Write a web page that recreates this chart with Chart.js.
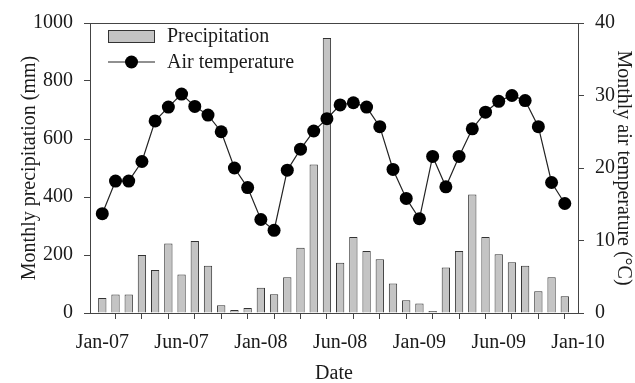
<!DOCTYPE html>
<html><head><meta charset="utf-8">
<script src="https://cdn.jsdelivr.net/npm/chart.js@4"></script>
<style>html,body{margin:0;padding:0;background:#fff}</style>
</head><body>
<canvas id="c" width="635" height="383"></canvas>
<script>
const months = ['Jan-07','Feb-07','Mar-07','Apr-07','May-07','Jun-07','Jul-07','Aug-07','Sep-07','Oct-07','Nov-07','Dec-07',
  'Jan-08','Feb-08','Mar-08','Apr-08','May-08','Jun-08','Jul-08','Aug-08','Sep-08','Oct-08','Nov-08','Dec-08',
  'Jan-09','Feb-09','Mar-09','Apr-09','May-09','Jun-09','Jul-09','Aug-09','Sep-09','Oct-09','Nov-09','Dec-09'];
const precipitation = [52,64,64,200,148,240,133,248,163,27,10,17,
  87,65,123,225,512,948,173,262,214,185,102,44,
  33,7,157,214,409,262,203,175,163,75,123,58];
const temperature = [13.7,18.2,18.2,20.9,26.5,28.4,30.2,28.5,27.3,25.0,20.0,17.3,
  12.9,11.4,19.7,22.6,25.1,26.8,28.7,29.0,28.4,25.7,19.8,15.8,
  13.0,21.6,17.4,21.6,25.4,27.7,29.2,30.0,29.3,25.7,18.0,15.1];
const tickLabels = ['Jan-07','Jun-07','Jan-08','Jun-08','Jan-09','Jun-09','Jan-10'];
const tickLabelIndex = [0,6,12,18,24,30,36];

const FONT = {family:'"Liberation Serif","Times New Roman",serif', size:20};
const TXT = '#1a1a1a';
const AX = '#444';

const legendPlugin = {
  id:'customLegend',
  afterDraw(chart){
    const ctx = chart.ctx;
    const ds = chart.data.datasets;
    ctx.save();
    const a = chart.chartArea;
    ctx.strokeStyle = AX; ctx.lineWidth = 1;
    ctx.beginPath(); ctx.moveTo(a.left, a.top+0.5); ctx.lineTo(a.right, a.top+0.5); ctx.stroke();
    const bar = ds.find(d=>d.type!=='line');
    const line = ds.find(d=>d.type==='line');
    ctx.fillStyle = bar.backgroundColor; ctx.strokeStyle = bar.borderColor; ctx.lineWidth = 1;
    ctx.fillRect(108.5,30.5,46,12); ctx.strokeRect(108.5,30.5,46,12);
    ctx.strokeStyle = line.borderColor; ctx.lineWidth = 1.2;
    ctx.beginPath(); ctx.moveTo(108,62); ctx.lineTo(155,62); ctx.stroke();
    ctx.fillStyle = '#000';
    ctx.beginPath(); ctx.arc(131.5,62,6.5,0,Math.PI*2); ctx.fill();
    ctx.fillStyle = TXT;
    ctx.font = FONT.size+'px '+FONT.family;
    ctx.textBaseline = 'middle'; ctx.textAlign='left';
    ctx.fillText(bar.label,167,37);
    ctx.fillText(line.label,167,63);
    ctx.restore();
  }
};

new Chart(document.getElementById('c'), {
  type:'bar',
  data:{
    datasets:[
      {type:'line', label:'Air temperature', data:temperature.map((v,i)=>({x:i,y:v})), yAxisID:'y1',
       borderColor:'#222', borderWidth:1.2, pointRadius:6.5, pointBackgroundColor:'#000', pointBorderColor:'#000',
       pointBorderWidth:0, tension:0, order:0},
      {type:'bar', label:'Precipitation', data:precipitation.map((v,i)=>({x:i,y:v})), yAxisID:'y',
       backgroundColor:'#c4c4c4', borderColor:'#333', borderWidth:1, barPercentage:0.63, categoryPercentage:1, order:1}
    ]
  },
  options:{
    responsive:false, animation:false, devicePixelRatio:1,
    layout:{padding:{top:19,left:0,right:0,bottom:0}},
    plugins:{legend:{display:false}, tooltip:{enabled:false}},
    scales:{
      x:{type:'linear', min:-0.93, max:36, offset:false,
        grid:{drawOnChartArea:false, drawTicks:true, tickLength:6, color:AX},
        border:{display:true, color:AX, width:1},
        ticks:{stepSize:2, includeBounds:false, autoSkip:false, maxRotation:0, minRotation:0, padding:12, color:TXT, font:FONT,
          callback:(v)=>{const k=tickLabelIndex.indexOf(v); return k>=0?tickLabels[k]:'';}},
        title:{display:true, text:'Date', font:FONT, color:TXT, padding:{top:0,bottom:-3}},
        afterFit:(s)=>{s.height=70;}
      },
      y:{position:'left', min:0, max:1000,
        grid:{drawOnChartArea:false, drawTicks:true, tickLength:6, color:AX},
        border:{display:true, color:AX, width:1},
        ticks:{stepSize:200, padding:11, color:TXT, font:FONT, callback:(v)=>String(v)},
        title:{display:true, text:'Monthly precipitation (mm)', font:FONT, color:TXT, padding:{top:18,bottom:0}},
        afterFit:(s)=>{s.width=90;}
      },
      y1:{position:'right', min:0, max:40,
        grid:{drawOnChartArea:false, drawTicks:true, tickLength:6, color:AX},
        border:{display:true, color:AX, width:1},
        ticks:{stepSize:10, padding:11, color:TXT, font:FONT, callback:(v)=>String(v)},
        title:{display:true, text:'Monthly air temperature (°C)', font:FONT, color:TXT, padding:{top:0,bottom:0}},
        afterFit:(s)=>{s.width=57;}
      }
    }
  },
  plugins:[legendPlugin]
});
</script>
</body></html>
